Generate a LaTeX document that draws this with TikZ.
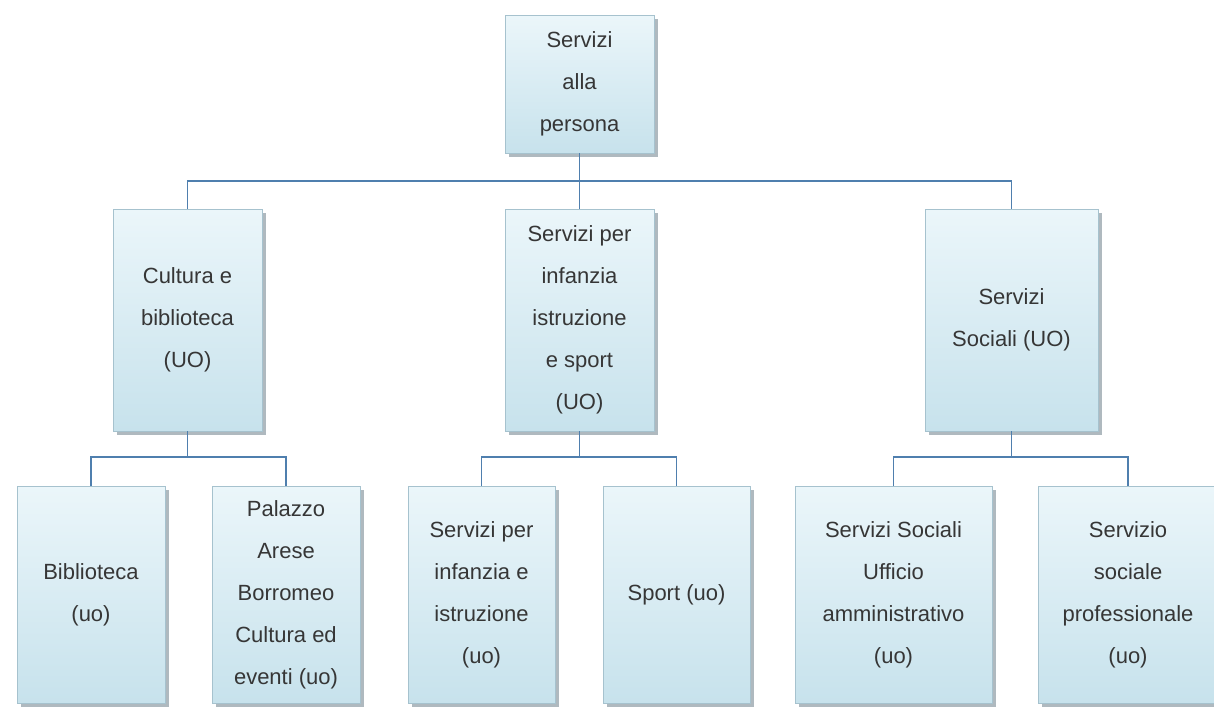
\documentclass[tikz,border=0pt]{standalone}
\usepackage{fontspec}
\setmainfont{Liberation Sans}
\usetikzlibrary{shadows}
\definecolor{boxtop}{HTML}{EBF6FA}
\definecolor{boxbot}{HTML}{C7E2EC}
\definecolor{boxline}{HTML}{A6C2CE}
\definecolor{linkcol}{HTML}{4F7FAE}
\definecolor{txtcol}{HTML}{363636}
\definecolor{shadowcol}{HTML}{8E9CA4}
\begin{document}
\begin{tikzpicture}[x=1pt,y=-1pt,
  orgbox/.style={rectangle, draw=boxline, line width=0.8pt,
    top color=boxtop, bottom color=boxbot,
    drop shadow={shadow xshift=4pt, shadow yshift=-4pt, fill=shadowcol, opacity=0.7},
    align=center, inner sep=2pt, text=txtcol,
    font=\fontsize{22}{42}\selectfont},
  link/.style={draw=linkcol, line width=1.5pt}]
\fill[white] (0,0) rectangle (1214,707);
\useasboundingbox (0,0) rectangle (1214,707);

% level 1
\node[orgbox, minimum width=149pt, minimum height=138pt] (top) at (579.5,84) {Servizi\\alla\\persona};

% level 2
\node[orgbox, minimum width=149pt, minimum height=222pt] (cult) at (187.5,320) {Cultura e\\biblioteca\\(UO)};
\node[orgbox, minimum width=149pt, minimum height=222pt] (infa) at (579.5,320) {Servizi per\\infanzia\\istruzione\\e sport\\(UO)};
\node[orgbox, minimum width=173pt, minimum height=222pt] (soc) at (1011.5,320) {Servizi\\Sociali (UO)};

% level 3
\node[orgbox, minimum width=148pt, minimum height=217pt] (bib) at (91,594.5) {Biblioteca\\(uo)};
\node[orgbox, minimum width=148pt, minimum height=217pt] (pal) at (286,594.5) {Palazzo\\Arese\\Borromeo\\Cultura ed\\eventi (uo)};
\node[orgbox, minimum width=147pt, minimum height=217pt] (ist) at (481.5,594.5) {Servizi per\\infanzia e\\istruzione\\(uo)};
\node[orgbox, minimum width=147pt, minimum height=217pt] (spo) at (676.5,594.5) {Sport (uo)};
\node[orgbox, minimum width=197pt, minimum height=217pt] (uff) at (893.5,594.5) {Servizi Sociali\\Ufficio\\amministrativo\\(uo)};
\node[orgbox, minimum width=180pt, minimum height=217pt] (pro) at (1128,594.5) {Servizio\\sociale\\professionale\\(uo)};

% bus coordinates
\coordinate (busA) at (0,181);
\coordinate (busB) at (0,457);

% connectors
\draw[link] (top.south) -- (top.south |- busA);
\draw[link] (cult.north) -- (cult.north |- busA) -- (soc.north |- busA) -- (soc.north);
\draw[link] (infa.north) -- (infa.north |- busA);

\draw[link] (cult.south) -- (cult.south |- busB);
\draw[link] (bib.north) -- (bib.north |- busB) -- (pal.north |- busB) -- (pal.north);

\draw[link] (infa.south) -- (infa.south |- busB);
\draw[link] (ist.north) -- (ist.north |- busB) -- (spo.north |- busB) -- (spo.north);

\draw[link] (soc.south) -- (soc.south |- busB);
\draw[link] (uff.north) -- (uff.north |- busB) -- (pro.north |- busB) -- (pro.north);
\end{tikzpicture}
\end{document}
